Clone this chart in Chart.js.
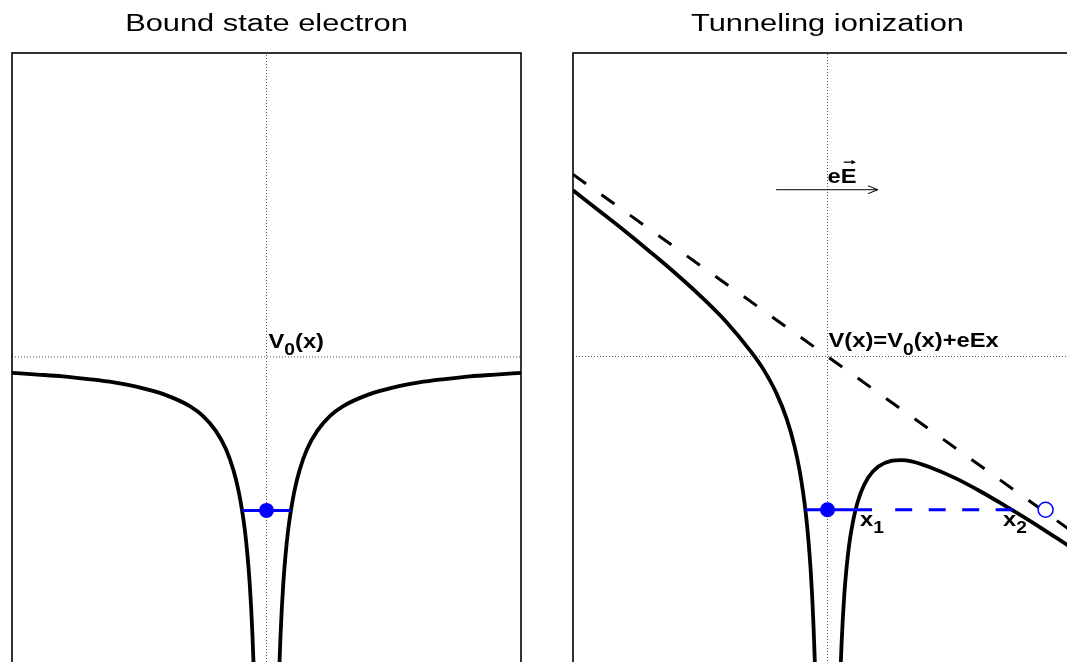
<!DOCTYPE html>
<html>
<head>
<meta charset="utf-8">
<script src="https://cdn.jsdelivr.net/npm/chart.js@4.4.0/dist/chart.umd.min.js"></script>
<style>
  html, body { margin: 0; padding: 0; background: #fff; overflow: hidden; }
  #stage { position: relative; width: 1067px; height: 662px; overflow: hidden; background: #fff; }
  #stage canvas { position: absolute; top: 0; }
  #bound { left: 0; }
  #tunnel { left: 540px; }
</style>
</head>
<body>
<div id="stage">
  <canvas id="bound" width="540" height="760"></canvas>
  <canvas id="tunnel" width="560" height="760"></canvas>
</div>
<script>
// ---- panel titles and label texts ([text, isSubscript]) ----
const titleBound = 'Bound state electron';
const titleTunnel = 'Tunneling ionization';
const labelV0 = [['V', 0], ['0', 1], ['(x)', 0]];
const labelV = [['V(x)=V', 0], ['0', 1], ['(x)+eEx', 0]];
const labelField = [['eE', 0]];
const labelX1 = [['x', 0], ['1', 1]];
const labelX2 = [['x', 0], ['2', 1]];

// ---- Coulomb well V0(x): branch left of the nucleus and branch right of it ----
const xWellLeft  = [-10, -9, -8, -7, -6, -5, -4, -3, -2.5, -2, -1.6, -1.3, -1.1, -0.96, -0.85, -0.75, -0.66, -0.6, -0.55, -0.5, -0.46, -0.42];
const vWellLeft  = [-0.105, -0.116, -0.128, -0.146, -0.168, -0.2, -0.248, -0.325, -0.388, -0.485, -0.605, -0.745, -0.88, -1.01, -1.14, -1.3, -1.49, -1.66, -1.84, -2.06, -2.3, -2.6];
const xWellRight = [0.42, 0.46, 0.5, 0.55, 0.6, 0.66, 0.75, 0.85, 0.96, 1.1, 1.3, 1.6, 2, 2.5, 3, 4, 5, 6, 7, 8, 9, 10];
const vWellRight = [-2.6, -2.3, -2.06, -1.84, -1.66, -1.49, -1.3, -1.14, -1.01, -0.88, -0.745, -0.605, -0.485, -0.388, -0.325, -0.248, -0.2, -0.168, -0.146, -0.128, -0.116, -0.105];

// ---- tilted potential V(x) = V0(x) + eEx ----
const xTiltLeft  = [-10, -9, -8, -7, -6, -5, -4, -3, -2.5, -2, -1.6, -1.3, -1.1, -0.96, -0.85, -0.75, -0.66, -0.6, -0.55, -0.5, -0.46, -0.42];
const vTiltLeft  = [1.095, 0.964, 0.832, 0.694, 0.552, 0.4, 0.232, 0.03, -0.09, -0.245, -0.413, -0.589, -0.748, -0.895, -1.038, -1.21, -1.411, -1.588, -1.774, -2.0, -2.245, -2.55];
const xTiltRight = [0.42, 0.46, 0.5, 0.55, 0.6, 0.66, 0.75, 0.85, 0.96, 1.1, 1.3, 1.6, 2, 2.5, 2.9, 3.3, 4, 5, 6, 7, 8, 9, 10];
const vTiltRight = [-2.65, -2.355, -2.12, -1.906, -1.732, -1.569, -1.39, -1.242, -1.125, -1.012, -0.901, -0.797, -0.725, -0.688, -0.683, -0.691, -0.728, -0.8, -0.888, -0.986, -1.088, -1.196, -1.305];

// ---- field term eEx alone ----
const xField = [-10, 10];
const vField = [1.2, -1.2];

// ---- bound level and tunnelling path ----
const levelE = -1.01;
const xLevelBound = [-0.95, 0.95];
const xLevelTunnel = [-0.87, 1.75];
const xTunnelPath = [2.66, 7.75];
const xElectronIn = 0;
const xElectronOut = 8.57;

// ---- field arrow ----
const xArrow = [-2.02, 1.98];
const vArrow = [1.099, 1.099];
const xArrowHead = [1.59, 1.98, 1.59];
const vArrowHead = [1.125, 1.099, 1.073];

// ---- axis ranges ----
const xRange = [-10, 10];
const vRange = [-2.6, 2.0];

const pts = (xs, ys) => xs.map((x, i) => ({ x, y: Array.isArray(ys) ? ys[i] : ys }));

const BLUE = '#0000ff';
const FONT = '"Liberation Sans", Arial, Helvetica, sans-serif';

function drawRich(ctx, parts, x, y, size, sx) {
  ctx.save();
  ctx.translate(x, y);
  ctx.scale(sx, 1);
  let cx = 0;
  const pos = [];
  for (const [t, sub] of parts) {
    ctx.font = 'bold ' + (sub ? Math.round(size * 0.8) : size) + 'px ' + FONT;
    const w = ctx.measureText(t).width;
    ctx.fillText(t, cx, sub ? size * 0.36 : 0);
    pos.push([cx, w]);
    cx += w;
  }
  ctx.restore();
  return pos;
}

const panelText = {
  id: 'panelText',
  afterDraw(chart, args, opts) {
    const { ctx, chartArea } = chart;
    const sx = chart.scales.x, sy = chart.scales.y;
    ctx.save();
    // frame
    ctx.strokeStyle = '#000';
    ctx.lineWidth = 1.6;
    ctx.strokeRect(chartArea.left, chartArea.top, chartArea.right - chartArea.left, chartArea.bottom - chartArea.top);
    // title
    ctx.fillStyle = '#000';
    ctx.font = opts.titleSize + 'px ' + FONT;
    ctx.textBaseline = 'alphabetic';
    const cxTitle = (chartArea.left + chartArea.right) / 2;
    const tw = ctx.measureText(opts.title).width * opts.titleStretch;
    ctx.save();
    ctx.translate(cxTitle - tw / 2, 31);
    ctx.scale(opts.titleStretch, 1);
    ctx.fillText(opts.title, 0, 0);
    ctx.restore();
    // labels anchored to data positions
    for (const lab of opts.labels) {
      const px = sx.getPixelForValue(lab.x) + lab.dx;
      const py = sy.getPixelForValue(lab.y) + lab.dy;
      const pos = drawRich(ctx, lab.parts, px, py, lab.size, opts.labelStretch);
      if (lab.vector) {
        // vector arrow above the last letter
        ctx.font = 'bold ' + lab.size + 'px ' + FONT;
        const wE = ctx.measureText('E').width * opts.labelStretch;
        const wAll = pos[0][1] * opts.labelStretch;
        const x1 = px + wAll - wE + 3, x2 = px + wAll - 2;
        const ya = py - lab.size * 0.98;
        ctx.lineWidth = 1.2;
        ctx.beginPath();
        ctx.moveTo(x1, ya); ctx.lineTo(x2, ya);
        ctx.moveTo(x2 - 3, ya - 1.5); ctx.lineTo(x2, ya); ctx.lineTo(x2 - 3, ya + 1.5);
        ctx.stroke();
      }
    }
    ctx.restore();
  }
};

function baseOptions(padLeft, padRight, title, labels) {
  return {
    responsive: false,
    animation: false,
    devicePixelRatio: 1,
    events: [],
    layout: { padding: { left: padLeft, right: padRight, top: 53, bottom: 8 } },
    scales: {
      x: { type: 'linear', min: xRange[0], max: xRange[1], display: false },
      y: { type: 'linear', min: vRange[0], max: vRange[1], display: false }
    },
    plugins: {
      legend: { display: false },
      tooltip: { enabled: false },
      title: { display: false },
      panelText: { title, titleSize: 23, titleStretch: 1.34, labelStretch: 1.13, labels }
    }
  };
}

const curve = (data, extra) => Object.assign({
  data, showLine: true, pointRadius: 0, borderColor: '#000', borderWidth: 3.8,
  fill: false, cubicInterpolationMode: 'monotone', clip: 0, order: 2
}, extra || {});
const dotted = (data) => ({
  data, showLine: true, pointRadius: 0, borderColor: '#555', borderWidth: 1,
  borderDash: [1, 2], fill: false, clip: 0, order: 6
});

// ---- left panel: bound state ----
new Chart(document.getElementById('bound'), {
  type: 'scatter',
  data: {
    datasets: [
      { data: pts([xElectronIn], levelE), pointRadius: 7.5, pointBackgroundColor: BLUE, pointBorderColor: BLUE, pointBorderWidth: 0, showLine: false, order: 0 },
      { data: pts(xLevelBound, levelE), showLine: true, pointRadius: 0, borderColor: BLUE, borderWidth: 3, order: 1 },
      curve(pts(xWellLeft, vWellLeft)),
      curve(pts(xWellRight, vWellRight)),
      dotted(pts([0, 0], vRange)),
      dotted(pts(xRange, 0))
    ]
  },
  options: baseOptions(12, 19, titleBound, [
    { x: 0, y: 0, dx: 2, dy: -9, size: 21, parts: labelV0 }
  ]),
  plugins: [panelText]
});

// ---- right panel: tunnelling through the tilted barrier ----
new Chart(document.getElementById('tunnel'), {
  type: 'scatter',
  data: {
    datasets: [
      { data: pts([xElectronIn], levelE), pointRadius: 7.5, pointBackgroundColor: BLUE, pointBorderColor: BLUE, pointBorderWidth: 0, showLine: false, order: 0 },
      { data: pts([xElectronOut], levelE), pointRadius: 7.5, pointBackgroundColor: '#fff', pointBorderColor: BLUE, pointBorderWidth: 1.5, showLine: false, order: 0 },
      { data: pts(xLevelTunnel, levelE), showLine: true, pointRadius: 0, borderColor: BLUE, borderWidth: 3, order: 1 },
      { data: pts(xTunnelPath, levelE), showLine: true, pointRadius: 0, borderColor: BLUE, borderWidth: 3, borderDash: [17, 16.5], order: 1 },
      curve(pts(xTiltLeft, vTiltLeft)),
      curve(pts(xTiltRight, vTiltRight)),
      curve(pts(xField, vField), { borderWidth: 3, borderDash: [16, 19], cubicInterpolationMode: 'default', order: 3 }),
      { data: pts(xArrow, vArrow), showLine: true, pointRadius: 0, borderColor: '#000', borderWidth: 1, order: 4 },
      { data: pts(xArrowHead, vArrowHead), showLine: true, pointRadius: 0, borderColor: '#000', borderWidth: 1, order: 4 },
      dotted(pts([0, 0], vRange)),
      dotted(pts(xRange, 0))
    ]
  },
  options: baseOptions(33, 18, titleTunnel, [
    { x: 0, y: 0, dx: 1, dy: -9, size: 21, parts: labelV },
    { x: 0, y: vArrow[0], dx: 0, dy: -7, size: 21, parts: labelField, vector: true },
    { x: 1.16, y: levelE, dx: 3, dy: 16, size: 21, parts: labelX1 },
    { x: 7.17, y: levelE, dx: -7, dy: 16, size: 21, parts: labelX2 }
  ]),
  plugins: [panelText]
});
</script>
</body>
</html>
